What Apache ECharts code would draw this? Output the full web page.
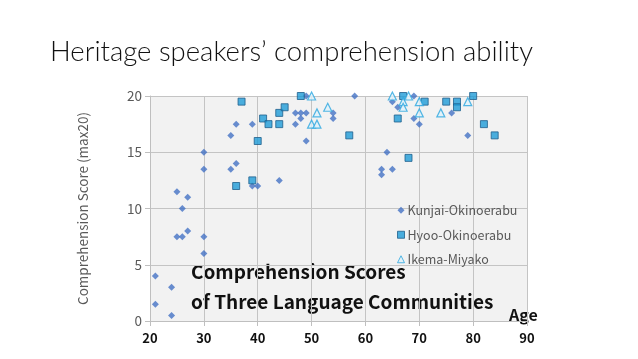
<!DOCTYPE html>
<html><head><meta charset="utf-8">
<script src="https://cdn.jsdelivr.net/npm/echarts@6/dist/echarts.min.js"></script>
<style>html,body{margin:0;padding:0;background:#fff}#c{width:638px;height:359px}</style>
</head><body><div id="c"></div>
<script>
var seriesNames = ['Kunjai-Okinoerabu', 'Hyoo-Okinoerabu', 'Ikema-Miyako'];
var kunjai = [[21,4],[21,1.5],[24,3],[24,0.5],[25,7.5],[26,7.5],[27,8],[30,7.5],[30,6],[25,11.5],[27,11],[26,10],[30,15],[30,13.5],[35,16.5],[36,17.5],[39,17.5],[35,13.5],[36,14],[39,12],[40,12],[44,12.5],[47,18.5],[47,17.5],[48,18.5],[48,18],[49,18.5],[49,16],[49,20],[54,18.5],[54,18],[58,20],[65,19.5],[66,19],[69,20],[69,18],[70,17.5],[76,18.5],[79,16.5],[64,15],[63,13.5],[63,13],[65,13.5]];
var hyoo = [[37,19.5],[40,16],[41,18],[42,17.5],[44,17.5],[44,18.5],[45,19],[48,20],[36,12],[39,12.5],[57,16.5],[66,18],[67,20],[71,19.5],[75,19.5],[77,19.5],[77,19],[80,20],[82,17.5],[84,16.5],[68,14.5]];
var ikema = [[50,20],[53,19],[51,18.5],[50,17.5],[51,17.5],[65,20],[67,19.5],[68,20],[67,19],[70,19.5],[70,18.5],[74,18.5],[79,19.5]];
var xTicks = [20,30,40,50,60,70,80,90];
var yTicks = [0,5,10,15,20];

var chart = echarts.init(document.getElementById('c'), null, {renderer:'canvas'});
var jp = '"Noto Sans CJK JP","Noto Sans",sans-serif';
chart.setOption({
  animation:false,
  backgroundColor:'#ffffff',
  title:{text:'Heritage speakers\u2019 comprehension ability', left:45, top:33,
    textStyle:{fontFamily:'Lato', fontWeight:300, fontSize:27.5, color:'#111'}},
  grid:{left:150, right:111, top:96, bottom:38, show:true, backgroundColor:'#f2f2f2', borderWidth:0},
  xAxis:{type:'value', min:xTicks[0], max:xTicks[xTicks.length-1], interval:10,
    axisLine:{show:true, lineStyle:{color:'#bfbfbf'}}, axisTick:{show:true, length:5, lineStyle:{color:'#bfbfbf'}},
    splitLine:{show:true, lineStyle:{color:'#c4c4c4'}},
    axisLabel:{fontFamily:jp, fontWeight:'bold', fontSize:13, color:'#111', margin:11}},
  yAxis:{type:'value', min:yTicks[0], max:yTicks[yTicks.length-1], interval:5,
    name:'Comprehension Score (max20)', nameLocation:'middle', nameGap:60, nameRotate:90,
    nameTextStyle:{fontFamily:jp, fontSize:13.5, color:'#595959'},
    axisLine:{show:true, lineStyle:{color:'#bfbfbf'}}, axisTick:{show:true, length:5, lineStyle:{color:'#bfbfbf'}},
    splitLine:{show:true, lineStyle:{color:'#c4c4c4'}},
    axisLabel:{fontFamily:jp, fontSize:13.5, color:'#595959', margin:8}},
  legend:{orient:'vertical', left:392, top:199, itemGap:12, itemWidth:7, itemHeight:7,
    itemStyle:{borderWidth:1},
    textStyle:{fontFamily:jp, fontSize:12.5, color:'#595959', padding:[0,0,0,-2]},
    data:[{name:seriesNames[0], icon:'diamond'},{name:seriesNames[1], icon:'rect'},{name:seriesNames[2], icon:'triangle'}]},
  series:[
    {name:seriesNames[0], type:'scatter', data:kunjai, symbol:'diamond', symbolSize:7,
      itemStyle:{color:'#4472c4'}},
    {name:seriesNames[1], type:'scatter', data:hyoo, symbol:'rect', symbolSize:7,
      itemStyle:{color:'#1e9bd7', borderColor:'#1f5f8c', borderWidth:1}},
    {name:seriesNames[2], type:'scatter', data:ikema, symbol:'triangle', symbolSize:8,
      itemStyle:{color:'#dff1fa', borderColor:'#2aa6e0', borderWidth:1.2}}
  ],
  graphic:[
    {type:'text', left:191, top:262, style:{text:'Comprehension Scores', fontFamily:jp, fontWeight:'bold', fontSize:19, fill:'#111'}},
    {type:'text', left:191, top:292, style:{text:'of Three Language Communities', fontFamily:jp, fontWeight:'bold', fontSize:19, fill:'#111'}},
    {type:'text', left:509, top:307, style:{text:'Age', fontFamily:jp, fontWeight:'bold', fontSize:16, fill:'#111'}}
  ]
});
</script></body></html>
